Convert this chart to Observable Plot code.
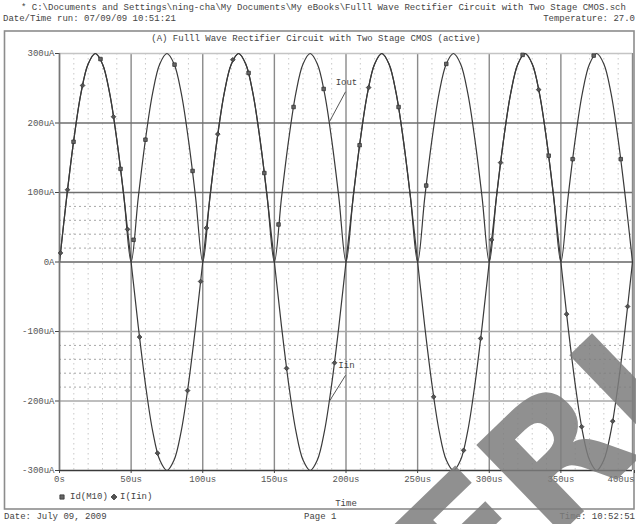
<!DOCTYPE html>
<html>
<head>
<meta charset="utf-8">
<script src="https://cdn.jsdelivr.net/npm/d3@7"></script>
<script src="https://cdn.jsdelivr.net/npm/@observablehq/plot@0.6"></script>
<style>
  html, body { margin: 0; padding: 0; background: #fff; overflow: hidden; }
  #chart { width: 636px; height: 524px; }
</style>
</head>
<body>
<div id="chart"></div>
<script>
// Simulation output sampled every 5 us (0 .. 400 us), values in uA.
const sampleStep = 5;
const iinValues = [
  0, 93, 176, 243, 285, 300, 285, 243, 176, 93,
  0, -93, -176, -243, -285, -300, -285, -243, -176, -93,
  0, 93, 176, 243, 285, 300, 285, 243, 176, 93,
  0, -93, -176, -243, -285, -300, -285, -243, -176, -93,
  0, 93, 176, 243, 285, 300, 285, 243, 176, 93,
  0, -93, -176, -243, -285, -300, -285, -243, -176, -93,
  0, 93, 176, 243, 285, 300, 285, 243, 176, 93,
  0, -93, -176, -243, -285, -300, -285, -243, -176, -93,
  0
];
const ioutValues = [
  0, 93, 176, 243, 285, 300, 285, 243, 176, 93,
  0, 93, 176, 243, 285, 300, 285, 243, 176, 93,
  0, 93, 176, 243, 285, 300, 285, 243, 176, 93,
  0, 93, 176, 243, 285, 300, 285, 243, 176, 93,
  0, 93, 176, 243, 285, 300, 285, 243, 176, 93,
  0, 93, 176, 243, 285, 300, 285, 243, 176, 93,
  0, 93, 176, 243, 285, 300, 285, 243, 176, 93,
  0, 93, 176, 243, 285, 300, 285, 243, 176, 93,
  0
];

// Trace markers (time in us, current in uA)
const idM10Marker = [
  [9.8, 173], [28.6, 292], [42.6, 134], [51.7, 32], [60, 176], [80.3, 284],
  [92.9, 131], [132, 272], [143, 128], [152.9, 54], [163.4, 223], [184.4, 249],
  [209.5, 168], [236.7, 223], [256, 110], [270, 285], [323.3, 298], [341.5, 153],
  [358.2, 148], [372.9, 297], [391.8, 148]
];
const iinMarker = [
  [0.7, 13], [5.6, 104], [16.1, 254], [37.7, 209], [47.5, 47], [55.9, -108],
  [68.4, -275], [89.4, -185], [98.5, -28], [102.6, 49], [110.5, 184], [121, 291],
  [158.5, -153], [192, -145], [215.8, 251], [261.2, -194], [282.1, -271], [294, -110],
  [301.7, 32], [307.9, 143], [334.5, 248], [354, -75], [364.5, -237], [386.2, -229],
  [396.6, -64]
];

// Axis ticks and labels
const xTicks = [0, 50, 100, 150, 200, 250, 300, 350, 400];
const xTickLabels = ["0s", "50us", "100us", "150us", "200us", "250us", "300us", "350us", "400us"];
const yTicks = [-300, -200, -100, 0, 100, 200, 300];
const yTickLabels = ["-300uA", "-200uA", "-100uA", "0A", "100uA", "200uA", "300uA"];

// Trace name callouts: text position, then the leader line from/to
const callouts = [
  { label: "Iout", t: 200.3, v: 259, t1: 199.7, v1: 245, t2: 188.5, v2: 202 },
  { label: "Iin", t: 200.3, v: -148, t1: 199.7, v1: -163, t2: 188.5, v2: -200 }
];

const iin = iinValues.map((v, i) => ({ t: i * sampleStep, v }));
const iout = ioutValues.map((v, i) => ({ t: i * sampleStep, v }));
const sqMarks = idM10Marker.map(([t, v]) => ({ t, v }));
const dmMarks = iinMarker.map(([t, v]) => ({ t, v }));

// Minor grid: 10 us columns, 20 uA rows in the two dotted bands
const xMinor = d3.range(10, 400, 10).filter(d => d % 50 !== 0);
const yMinor = [20, 40, 60, 80, -120, -140, -160, -180];
const xLab = new Map(xTicks.map((d, i) => [d, xTickLabels[i]]));
const yLab = new Map(yTicks.map((d, i) => [d, yTickLabels[i]]));

const mono = "'Liberation Mono', 'DejaVu Sans Mono', monospace";

const chart = Plot.plot({
  width: 636,
  height: 524,
  marginLeft: 59,
  marginRight: 4,
  marginTop: 53,
  marginBottom: 54,
  x: { domain: [0, 400] },
  y: { domain: [-300, 300] },
  style: { fontFamily: mono, fontSize: "9px", color: "#555", background: "#fff" },
  marks: [
    Plot.ruleX(xMinor, { stroke: "#c8c8c8", strokeWidth: 1, strokeDasharray: "1.5,3.5" }),
    Plot.ruleY(yMinor, { stroke: "#a6a6a6", strokeWidth: 1, strokeDasharray: "2,3" }),
    Plot.ruleX(xTicks, { stroke: "#8a8a8a", strokeWidth: 1.4 }),
    Plot.ruleY([100, 200], { stroke: "#6e6e6e", strokeWidth: 1.5 }),
    Plot.ruleY([-100, -200], { stroke: "#a8a8a8", strokeWidth: 1.5 }),
    Plot.ruleY([0], { stroke: "#666", strokeWidth: 1.3 }),
    Plot.ruleY([300], { stroke: "#c4c4c4", strokeWidth: 1.5 }),
    Plot.axisX(xTicks.slice(0, -1), { tickFormat: d => xLab.get(d), tickSize: 3, tickPadding: 2, stroke: "#444" }),
    Plot.axisX(xTicks.slice(-1), { tickFormat: d => xLab.get(d), tickSize: 3, tickPadding: 2, stroke: "#444", textAnchor: "end", dx: 2 }),
    Plot.axisY(yTicks, { tickFormat: d => yLab.get(d), tickSize: 4, tickPadding: 1, stroke: "#444" }),
    Plot.line(iin, { x: "t", y: "v", curve: "catmull-rom", stroke: "#3a3a3a", strokeWidth: 1.2 }),
    Plot.line(iout, { x: "t", y: "v", curve: "catmull-rom", stroke: "#3a3a3a", strokeWidth: 1.2 }),
    Plot.ruleY([-300], { stroke: "#3a3a3a", strokeWidth: 1.6 }),
    Plot.ruleX([0], { stroke: "#777", strokeWidth: 1.5 }),
    Plot.dot(sqMarks, { x: "t", y: "v", symbol: "square", r: 2, fill: "#666", stroke: "#333", strokeWidth: 0.8 }),
    Plot.dot(dmMarks, { x: "t", y: "v", symbol: "diamond2", r: 2.1, fill: "#555", stroke: "#333", strokeWidth: 0.8 }),
    Plot.link(callouts, { x1: "t1", y1: "v1", x2: "t2", y2: "v2", stroke: "#555", strokeWidth: 1 }),
    Plot.text(callouts, { x: "t", y: "v", text: "label", fill: "#444", fontSize: 9 })
  ]
});

document.getElementById("chart").append(chart);

// Page furniture: file header, outer frame, legend and footer
const svg = d3.select(chart);
svg.insert("rect", ":first-child")
  .attr("x", 4.5).attr("y", 31).attr("width", 629.5).attr("height", 478)
  .attr("fill", "none").attr("stroke", "#8c8c8c").attr("stroke-width", 1.6);

const note = (x, y, str, anchor = "start") =>
  svg.append("text").attr("x", x).attr("y", y).attr("text-anchor", anchor)
    .attr("dominant-baseline", "middle").attr("font-family", mono)
    .attr("font-size", 9).attr("fill", "#444").text(str);

note(21, 8, "* C:\\Documents and Settings\\ning-cha\\My Documents\\My eBooks\\Fulll Wave Rectifier Circuit with Two Stage CMOS.sch");
note(3, 19, "Date/Time run: 07/09/09 10:51:21");
note(635, 19, "Temperature: 27.0", "end");
note(316, 39, "(A) Fulll Wave Rectifier Circuit with Two Stage CMOS (active)", "middle");
note(346, 504, "Time", "middle");
note(4, 517, "Date: July 09, 2009");
note(304, 517, "Page 1");
note(635, 517, "Time: 10:52:51", "end");

// Legend
svg.append("path").attr("d", d3.symbol(d3.symbolSquare, 18)())
  .attr("transform", "translate(62,497)").attr("fill", "#666").attr("stroke", "#333").attr("stroke-width", 0.8);
note(70, 497, "Id(M10)");
svg.append("path").attr("d", d3.symbol(d3.symbolDiamond2, 22)())
  .attr("transform", "translate(114,497)").attr("fill", "#555").attr("stroke", "#333").attr("stroke-width", 0.8);
note(120, 497, "I(Iin)");

// Site watermark across the lower right corner
svg.append("text")
  .attr("transform", "translate(578,517) rotate(-44)")
  .attr("font-family", "'DejaVu Sans', sans-serif").attr("font-weight", "bold")
  .attr("font-size", 168).attr("fill", "#7c7c7c").attr("fill-opacity", 0.85)
  .text("ERI");
</script>
</body>
</html>
